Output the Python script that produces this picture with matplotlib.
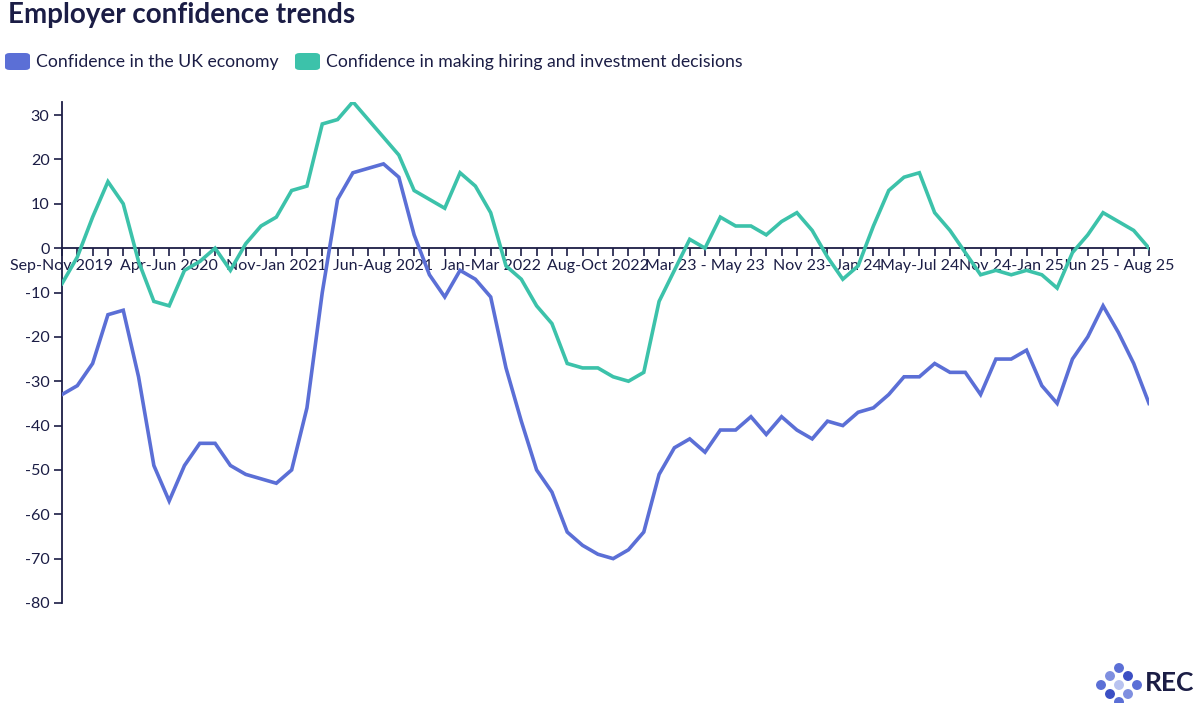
import numpy as np
import matplotlib
matplotlib.use("Agg")
import matplotlib.pyplot as plt
from matplotlib.patches import FancyBboxPatch, Ellipse

#---------------------------------------------------
# data
#---------------------------------------------------

economy = [-33, -31, -26, -15, -14, -29, -49, -57, -49, -44, -44, -49, -51, -52, -53,
           -50, -36, -10, 11, 17, 18, 19, 16, 3, -6, -11, -5, -7, -11,
           -27, -39, -50, -55, -64, -67, -69, -70, -68, -64, -51, -45, -43, -46,
           -41, -41, -38, -42, -38, -41, -43, -39, -40, -37, -36, -33, -29, -29,
           -26, -28, -28, -33, -25, -25, -23, -31, -35, -25, -20, -13, -19, -26, -35]

hiring = [-8, -2, 7, 15, 10, -3, -12, -13, -5, -3, 0, -5, 1, 5, 7,
          13, 14, 28, 29, 33, 29, 25, 21, 13, 11, 9, 17, 14, 8,
          -4, -7, -13, -17, -26, -27, -27, -29, -30, -28, -12, -5, 2, 0,
          7, 5, 5, 3, 6, 8, 4, -2, -7, -4, 5, 13, 16, 17,
          8, 4, -1, -6, -5, -6, -5, -6, -9, -1, 3, 8, 6, 4, 0]

series_names = ["Confidence in the UK economy",
                "Confidence in making hiring and investment decisions"]

tick_idx = [0, 7, 14, 21, 28, 35, 42, 50, 56, 62, 69]
tick_labels = ["Sep-Nov 2019", "Apr-Jun 2020", "Nov-Jan 2021", "Jun-Aug 2021",
               "Jan-Mar 2022", "Aug-Oct 2022", "Mar 23 - May 23", "Nov 23- Jan 24",
               "May-Jul 24", "Nov 24-Jan 25", "Jun 25 - Aug 25"]

y_ticks = list(range(-80, 31, 10))

#---------------------------------------------------
# style
#---------------------------------------------------

BLUE = "#5b6fd6"
TEAL = "#3cc2aa"
NAVY = "#1b1d45"
plt.rcParams['font.family'] = ['Lato', 'DejaVu Sans']

fig = plt.figure(figsize=(12, 7.03), dpi=100)
ax = fig.add_axes([62 / 1200, 1 - 603 / 703, (1149 - 62) / 1200, (603 - 101.8) / 703])

x = np.arange(len(economy))
ax.plot(x, economy, color=BLUE, lw=2.6, zorder=3, solid_joinstyle='miter')
ax.plot(x, hiring, color=TEAL, lw=2.6, zorder=3, solid_joinstyle='miter')

ax.set_xlim(0, len(economy) - 1)
ax.set_ylim(-80, 33)

for side in ["top", "right"]:
    ax.spines[side].set_visible(False)
ax.spines["bottom"].set_position(("data", 0))
ax.spines["left"].set_bounds(-80, 33)
for side in ["bottom", "left"]:
    ax.spines[side].set_color(NAVY)
    ax.spines[side].set_linewidth(1.3)

labels = [""] * len(economy)
for i, lab in zip(tick_idx, tick_labels):
    labels[i] = lab
ax.set_xticks(x)
ax.set_xticklabels(labels)
ax.set_yticks(y_ticks)
ax.set_yticklabels([str(v) for v in y_ticks])
ax.tick_params(axis="x", length=6, width=1.2, color=NAVY, labelcolor=NAVY,
               labelsize=11.5, pad=2)
ax.tick_params(axis="y", length=6, width=1.2, color=NAVY, labelcolor=NAVY,
               labelsize=11.6, pad=3)

#---------------------------------------------------
# title, legend, logo
#---------------------------------------------------

fig.text(8 / 1200, 1 - 2 / 703, "Employer confidence trends", ha="left", va="top",
         fontsize=20, fontweight="bold", color=NAVY)

leg_items = [(5, BLUE, series_names[0]), (295, TEAL, series_names[1])]
for px, col, name in leg_items:
    fig.patches.append(FancyBboxPatch((px / 1200, 1 - 70 / 703), 25 / 1200, 17 / 703,
                                      boxstyle="round,pad=0,rounding_size=0.004",
                                      transform=fig.transFigure, facecolor=col,
                                      edgecolor="none"))
    fig.text((px + 31) / 1200, 1 - 62 / 703, name, ha="left", va="center",
             fontsize=12.7, color=NAVY)

# REC logo
dots_x = [1119, 1110, 1128, 1101, 1119, 1137, 1110, 1128, 1119]
dots_y = [668, 676, 676, 685, 685, 685, 694, 694, 702]
dot_c = ["#5b6fd6", "#7f8fe0", "#3b4fc4", "#5b6fd6", "#b9c3f0", "#5b6fd6",
         "#3b4fc4", "#7f8fe0", "#5b6fd6"]
for dx, dy, dc in zip(dots_x, dots_y, dot_c):
    fig.patches.append(Ellipse((dx / 1200, 1 - dy / 703), 8.5 / 1200, 8.5 / 703,
                               transform=fig.transFigure, color=dc))
fig.text(1145 / 1200, 1 - 683 / 703, "REC", ha="left", va="center",
         fontsize=19, fontweight="bold", color=NAVY)

fig.savefig("out.png", dpi=100)
